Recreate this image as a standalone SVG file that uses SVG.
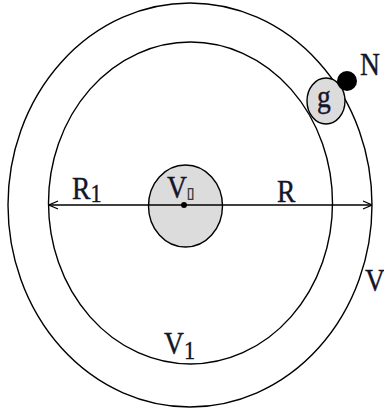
<svg xmlns="http://www.w3.org/2000/svg" width="384" height="413" viewBox="0 0 384 413">
<defs>
<style>
.ring{fill:none;stroke:#000;stroke-width:1.4}
.ball{fill:#dcdcdc;stroke:#000;stroke-width:1.4}
.lbl{font-family:"Liberation Serif","Times New Roman",serif;font-size:31px;fill:#14142a;stroke:#14142a;stroke-width:0.4}
.sub{font-size:25px}
.conn{fill:none;stroke:#000;stroke-width:1.3}
</style>
<marker id="arr" viewBox="0 0 10 10" refX="10" refY="5" markerWidth="10" markerHeight="10" markerUnits="userSpaceOnUse" orient="auto-start-reverse">
<path d="M1,1 L10,5 L1,9" fill="none" stroke="#000" stroke-width="1.2"/>
</marker>
</defs>
<rect width="384" height="413" fill="#fff"/>
<g id="outer"><ellipse class="ring" cx="190" cy="205" rx="182" ry="202"/></g>
<g id="inner"><ellipse class="ring" cx="190.5" cy="203" rx="142" ry="161"/></g>
<g id="core"><ellipse class="ball" cx="185.5" cy="206" rx="37" ry="41"/></g>
<g id="connectors">
<line class="conn" x1="49" y1="205" x2="372" y2="205" marker-start="url(#arr)" marker-end="url(#arr)"/>
</g>
<g id="center"><circle cx="184" cy="205" r="3" fill="#000"/></g>
<g id="g-ball"><ellipse class="ball" cx="326" cy="101" rx="19" ry="23"/><text class="lbl" transform="translate(317,107) scale(0.89,1)">g</text></g>
<g id="n-dot"><circle cx="347" cy="81" r="10" fill="#000"/><text class="lbl" transform="translate(360,75) scale(0.89,1)">N</text></g>
<g id="labels">
<text class="lbl" transform="translate(72,199) scale(0.89,1)">R<tspan class="sub" dy="3">1</tspan></text>
<text class="lbl" transform="translate(277,202) scale(0.89,1)">R</text>
<text class="lbl" transform="translate(167,198) scale(0.89,1)">V<tspan style="font-family:'DejaVu Sans',sans-serif;font-size:15px;stroke:#333;stroke-width:0.5;fill:#333">▯</tspan></text>
<text class="lbl" transform="translate(164,354) scale(0.89,1)">V<tspan class="sub" dy="5">1</tspan></text>
<text class="lbl" transform="translate(365,291) scale(0.89,1)">V</text>
</g>
</svg>
